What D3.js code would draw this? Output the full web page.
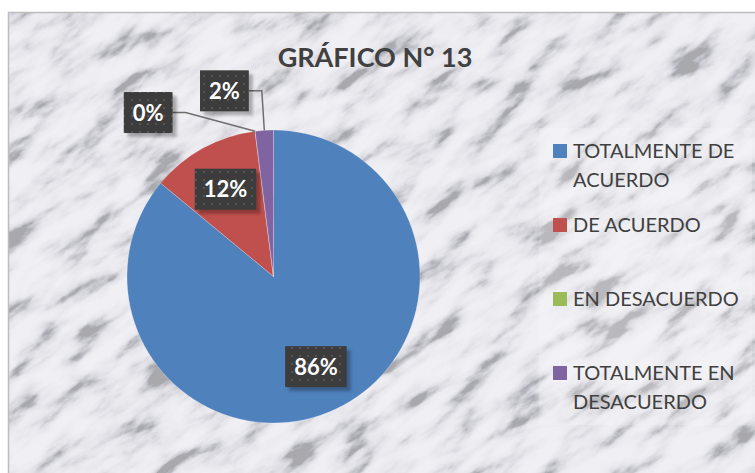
<!DOCTYPE html>
<html><head><meta charset="utf-8">
<script src="https://cdn.jsdelivr.net/npm/d3@7"></script>
<style>html,body{margin:0;padding:0;background:#fff;}svg{display:block;}</style>
</head><body>
<svg id="chart" width="755" height="473"></svg>
<script>
const categories = ["TOTALMENTE DE ACUERDO", "DE ACUERDO", "EN DESACUERDO", "TOTALMENTE EN DESACUERDO"];
const legendLines = [["TOTALMENTE DE", "ACUERDO"], ["DE ACUERDO"], ["EN DESACUERDO"], ["TOTALMENTE EN", "DESACUERDO"]];
const values = [86, 12, 0, 2];
const valueLabels = ["86%", "12%", "0%", "2%"];
const colors = ["#4F81BD", "#C0504D", "#9BBB59", "#8064A2"];
const title = "GRÁFICO N° 13";

const W = 755, H = 473;
const svg = d3.select("#chart");
const defs = svg.append("defs");

// marble texture
const f = defs.append("filter").attr("id", "marble").attr("x", 0).attr("y", 0).attr("width", 1).attr("height", 1)
  .attr("color-interpolation-filters", "sRGB");
f.append("feTurbulence").attr("type", "fractalNoise").attr("baseFrequency", "0.018 0.05")
  .attr("numOctaves", 6).attr("seed", 11).attr("result", "n");
f.append("feColorMatrix").attr("type", "matrix")
  .attr("values", "2.0 0 0 0 -0.5  2.0 0 0 0 -0.5  2.0 0 0 0 -0.49  0 0 0 0 1");
const ct = f.append("feComponentTransfer");
["feFuncR", "feFuncG"].forEach(fn => ct.append(fn).attr("type", "table").attr("tableValues", "0.66 0.78 0.86 0.9 0.92 0.93 0.94 0.94"));
ct.append("feFuncB").attr("type", "table").attr("tableValues", "0.68 0.8 0.88 0.92 0.94 0.95 0.96 0.96");

// dotted pattern for label boxes
const pat = defs.append("pattern").attr("id", "dots").attr("width", 8).attr("height", 8).attr("patternUnits", "userSpaceOnUse");
pat.append("rect").attr("width", 8).attr("height", 8).attr("fill", "#3c3c3c");
pat.append("rect").attr("x", 3).attr("y", 3).attr("width", 2).attr("height", 2).attr("fill", "#555");

const blur = defs.append("filter").attr("id", "shadow").attr("x", "-20%").attr("y", "-20%").attr("width", "150%").attr("height", "150%");
blur.append("feGaussianBlur").attr("stdDeviation", 1.5);

// chart area
const area = {x: 8, y: 12, w: W, h: H};
svg.append("clipPath").attr("id", "areaClip").append("rect")
  .attr("x", area.x).attr("y", area.y).attr("width", area.w).attr("height", area.h);
const bg = svg.append("g").attr("clip-path", "url(#areaClip)");
bg.append("rect").attr("x", area.x).attr("y", area.y).attr("width", area.w).attr("height", area.h).attr("fill", "#e9eaec");
bg.append("g").attr("transform", `translate(380,240) rotate(-35)`)
  .append("rect").attr("x", -600).attr("y", -500).attr("width", 1200).attr("height", 1000)
  .attr("filter", "url(#marble)");
svg.append("path").attr("d", `M${area.x + 0.5},${H}V${area.y + 0.5}H${W}`)
  .attr("fill", "none").attr("stroke", "#bdbdbd").attr("stroke-width", 1.5);

// title
svg.append("text").attr("x", 375).attr("y", 67).attr("text-anchor", "middle")
  .attr("font-family", "Lato, 'Open Sans', sans-serif").attr("font-weight", "bold").attr("font-size", 27)
  .attr("fill", "#404040").text(title);

// pie
const cx = 273.5, cy = 276.5, r = 146.5;
const pie = d3.pie().sort(null).value(d => d)(values);
const arc = d3.arc().innerRadius(0).outerRadius(r);
const g = svg.append("g").attr("transform", `translate(${cx},${cy})`);
g.selectAll("path.slice").data(pie).join("path").attr("class", "slice")
  .attr("d", arc).attr("fill", (d, i) => colors[i])
  .attr("stroke", "#fff").attr("stroke-width", 0.4).attr("stroke-opacity", 0.6);

// labels
const font = "Lato, 'Open Sans', sans-serif";
const lblLayer = svg.append("g");
const measure = svg.append("text").attr("font-family", font).attr("font-weight", "bold").attr("font-size", 22);
function textW(t) { measure.text(t); return measure.node().getComputedTextLength(); }
const boxH = 41;
const inArc = d3.arc().innerRadius(r * 0.68).outerRadius(r * 0.68);
const placed = [];
function overlaps(b, pad) {
  return placed.some(p => b.x < p.x + p.w + pad && b.x + b.w + pad > p.x && b.y < p.y + p.h + pad && b.y + b.h + pad > p.y);
}
const boxes = [];
// inside labels first
pie.forEach((d, i) => {
  if (values[i] >= 5) {
    const [x, y] = inArc.centroid(d);
    const w = textW(valueLabels[i]) + 18;
    const b = {i, x: cx + x - w / 2, y: cy + y - boxH / 2, w, h: boxH};
    placed.push(b); boxes.push(b);
  }
});
// outside labels, from last slice backwards, rotating away on collision
const outside = pie.map((d, i) => i).filter(i => values[i] < 5).reverse();
outside.forEach(i => {
  const d = pie[i];
  let a = (d.startAngle + d.endAngle) / 2;
  const w = textW(valueLabels[i]) + 18;
  const Re = r * 1.27;
  let b;
  for (let k = 0; k < 90; k++) {
    const ex = cx + Re * Math.sin(a), ey = cy - Re * Math.cos(a);
    b = {i, x: ex - 13 - w, y: ey - boxH / 2, w, h: boxH, ex, ey, a0: (d.startAngle + d.endAngle) / 2};
    if (!overlaps(b, 25)) break;
    a -= Math.PI / 180;
  }
  placed.push(b); boxes.push(b);
});
// leader lines
boxes.filter(b => b.ex !== undefined).forEach(b => {
  const px = cx + r * Math.sin(b.a0), py = cy - r * Math.cos(b.a0);
  lblLayer.append("path")
    .attr("d", `M${b.x + b.w},${b.ey}H${b.ex}L${px},${py}`)
    .attr("fill", "none").attr("stroke", "#6e6e6e").attr("stroke-width", 1.5);
});
boxes.forEach(b => {
  lblLayer.append("rect").attr("x", b.x + 4).attr("y", b.y + 4).attr("width", b.w).attr("height", b.h)
    .attr("fill", "#000").attr("opacity", 0.28).attr("filter", "url(#shadow)");
  lblLayer.append("rect").attr("x", b.x).attr("y", b.y).attr("width", b.w).attr("height", b.h).attr("fill", "url(#dots)");
  lblLayer.append("text").attr("x", b.x + b.w / 2).attr("y", b.y + b.h / 2 + 8)
    .attr("text-anchor", "middle").attr("font-family", font).attr("font-weight", "bold").attr("font-size", 22)
    .attr("fill", "#fff").text(valueLabels[b.i]);
});
measure.remove();

// legend
const leg = svg.append("g");
leg.append("rect").attr("x", 539).attr("y", 128).attr("width", 213).attr("height", 297)
  .attr("fill", "#fff").attr("opacity", 0.2);
categories.forEach((c, i) => {
  const base = 158 + 74 * i;
  leg.append("rect").attr("x", 553).attr("y", base - 14).attr("width", 14).attr("height", 14).attr("fill", colors[i]);
  const t = leg.append("text").attr("font-family", font).attr("font-size", 20).attr("fill", "#404040");
  legendLines[i].forEach((ln, j) => {
    t.append("tspan").attr("x", 573).attr("y", base + 29 * j).text(ln);
  });
});
</script>
</body></html>
